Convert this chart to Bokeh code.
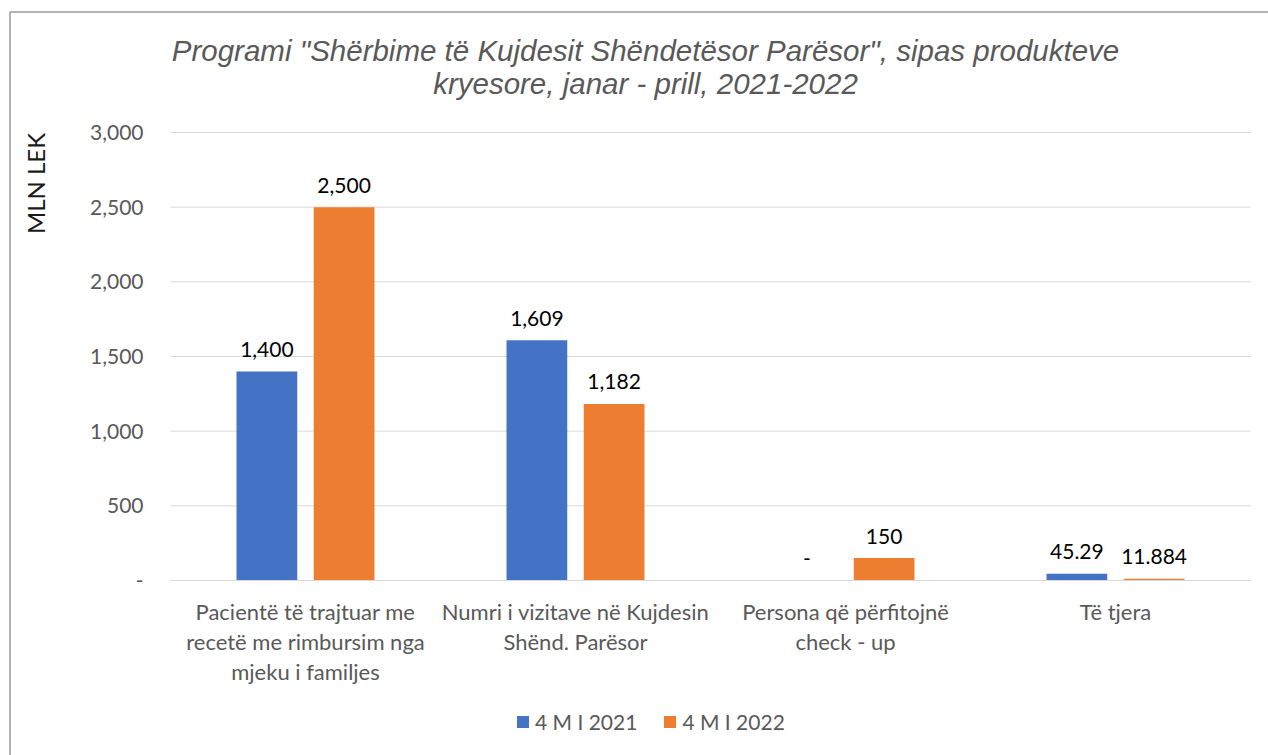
from math import pi
from bokeh.plotting import figure
from bokeh.models import (Range1d, FixedTicker, Label, Legend, LegendItem,
                          ColumnDataSource, LinearAxis, BoxAnnotation)
from bokeh.transform import dodge
from bokeh.core.properties import value
from bokeh.embed import file_html
from bokeh.resources import INLINE

# ---------------- data ----------------
categories = [
    "Pacientë të trajtuar me\nrecetë me rimbursim nga\nmjeku i familjes",
    "Numri i vizitave në Kujdesin\nShënd. Parësor",
    "Persona që përfitojnë\ncheck - up",
    "Të tjera",
]
series_names = ["4 M I 2021", "4 M I 2022"]
values_2021 = [1400, 1609, 0, 45.29]
values_2022 = [2500, 1182, 150, 11.884]
labels_2021 = ["1,400", "1,609", "-", "45.29"]
labels_2022 = ["2,500", "1,182", "150", "11.884"]
y_ticks = [0, 500, 1000, 1500, 2000, 2500, 3000]
y_tick_labels = ["-", "500", "1,000", "1,500", "2,000", "2,500", "3,000"]
title_lines = ['Programi "Shërbime të Kujdesit Shëndetësor Parësor", sipas produkteve',
               "kryesore, janar - prill, 2021-2022"]
y_title = "MLN LEK"

# ---------------- layout / styling ----------------
W, H = 1268, 755
FRAME_L, FRAME_R = 170, 1250      # plot area (page px)
FRAME_T, FRAME_B = 132, 580
Y_MAX = 3000
n = len(categories)
px_per_x = (FRAME_R - FRAME_L) / n
px_per_y = (FRAME_B - FRAME_T) / Y_MAX
x_start = -FRAME_L / px_per_x
x_end = x_start + W / px_per_x
y_start = -(H - FRAME_B) / px_per_y
y_end = Y_MAX + FRAME_T / px_per_y


def px_x(px):
    return x_start + px / px_per_x


def px_y(py):
    return y_end - py / px_per_y


BLUE = "#4472C4"
ORANGE = "#ED7D31"
GREY_TXT = "#595959"
GRID = "#D9D9D9"
FONT = "Lato"

xc = [i + 0.5 for i in range(n)]
src = ColumnDataSource(dict(xc=xc, v21=values_2021, v22=values_2022,
                            l21=labels_2021, l22=labels_2022))

p = figure(x_range=Range1d(x_start, x_end), y_range=Range1d(y_start, y_end),
           width=W, height=H, output_backend="svg", toolbar_location=None,
           x_axis_location=None, y_axis_location=None,
           min_border=0)
p.title.visible = False
p.outline_line_color = None
p.background_fill_color = "white"
p.border_fill_color = "white"
p.xgrid.visible = False
p.ygrid.visible = False

# gridlines (bounded to the plot area)
p.segment(x0=0, x1=n, y0=y_ticks, y1=y_ticks, line_color=GRID, line_width=1)

off = 0.143
bw = 0.225
b1 = p.vbar(x=dodge("xc", -off), top="v21", width=bw,
            source=src, fill_color=BLUE, line_color=None)
b2 = p.vbar(x=dodge("xc", off), top="v22", width=bw,
            source=src, fill_color=ORANGE, line_color=None)

for ycol, lcol, o in (("v21", "l21", -off), ("v22", "l22", off)):
    p.text(x=dodge("xc", o), y=ycol, text=lcol, source=src,
           text_align="center", text_baseline="middle", y_offset=-22,
           text_font=value(FONT), text_font_size="21px", text_color="#000000")

# axes
yaxis = LinearAxis(fixed_location=0, bounds=(0, Y_MAX),
                   ticker=FixedTicker(ticks=y_ticks))
yaxis.major_label_overrides = {t: l for t, l in zip(y_ticks, y_tick_labels)}
yaxis.axis_line_color = None
yaxis.major_tick_line_color = None
yaxis.minor_tick_line_color = None
yaxis.major_tick_out = 0
yaxis.major_tick_in = 0
yaxis.major_label_standoff = 27
yaxis.major_label_text_font = FONT
yaxis.major_label_text_font_size = "21px"
yaxis.major_label_text_color = GREY_TXT
p.add_layout(yaxis, "left")

xaxis = LinearAxis(fixed_location=0, bounds=(0, n),
                   ticker=FixedTicker(ticks=xc))
xaxis.major_label_overrides = {x: c for x, c in zip(xc, categories)}
xaxis.axis_line_color = GRID
xaxis.major_tick_line_color = None
xaxis.minor_tick_line_color = None
xaxis.major_tick_out = 0
xaxis.major_tick_in = 0
xaxis.major_label_standoff = 17
xaxis.major_label_text_font = FONT
xaxis.major_label_text_font_size = "22px"
xaxis.major_label_text_color = GREY_TXT
xaxis.major_label_text_line_height = 1.12
p.add_layout(xaxis, "below")

# title lines
for txt, py in zip(title_lines, (50, 83)):
    p.add_layout(Label(x=px_x(645), y=px_y(py), text=txt, text_align="center",
                       text_baseline="middle", text_font="Liberation Sans",
                       text_font_style="italic", text_font_size="29.5px",
                       text_color=GREY_TXT))
# y title
p.add_layout(Label(x=px_x(35), y=px_y(183), text=y_title, angle=pi / 2,
                   text_align="center", text_baseline="middle", text_font=FONT,
                   text_font_size="24px", text_color="#1a1a1a"))

legend = Legend(items=[LegendItem(label=series_names[0], renderers=[b1]),
                       LegendItem(label=series_names[1], renderers=[b2])],
                orientation="horizontal", location=(515, H - 734),
                border_line_color=None, background_fill_alpha=0,
                glyph_width=15, glyph_height=15, label_height=20,
                label_text_font=FONT, label_text_baseline="middle",
                label_text_font_size="21px", label_text_color=GREY_TXT,
                spacing=25, padding=0, margin=0, label_standoff=5)
p.add_layout(legend)

# chart border (right/bottom edges fall outside the window, as in the reference)
p.add_layout(BoxAnnotation(left=px_x(9.5), right=px_x(W + 20),
                           top=px_y(11.5), bottom=px_y(H + 20),
                           fill_color=None, line_color="black", line_width=2))

open("out.html", "w").write(file_html(p, INLINE))
